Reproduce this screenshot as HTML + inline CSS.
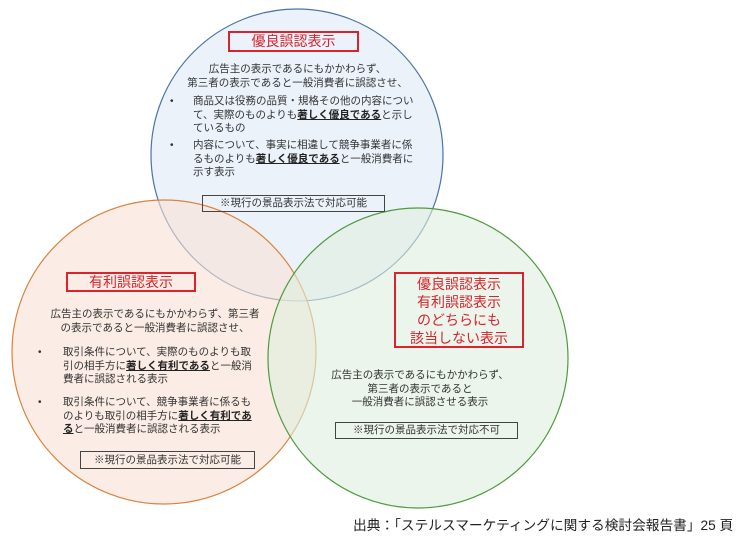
<!DOCTYPE html>
<html><head><meta charset="utf-8"><style>
body{margin:0;width:750px;height:540px;background:#fff;position:relative;overflow:hidden;font-family:"Liberation Sans","Noto Sans CJK JP",sans-serif;color:#333}
.a{position:absolute;font-size:10.5px;line-height:13.5px;white-space:nowrap}
.c{text-align:center}
.t{position:absolute;border:2px solid #d9232d;color:#d9232d;text-align:center;font-size:14px;box-sizing:border-box}
.n{position:absolute;border:1px solid #444;text-align:center;font-size:10.5px;line-height:15px;box-sizing:border-box;color:#333}
b{text-decoration:underline;color:#222}
.bl{position:absolute;font-size:10px}
</style></head><body>
<svg width="750" height="540" style="position:absolute;left:0;top:0">
<circle cx="297" cy="155" r="146" fill="#dde9f5" fill-opacity="0.6" stroke="#4a74a8" stroke-width="1.2"/>
<circle cx="164" cy="352" r="152" fill="#f9e1d3" fill-opacity="0.6" stroke="#d9833f" stroke-width="1.2"/>
<circle cx="418" cy="358" r="150" fill="#dfeedd" fill-opacity="0.6" stroke="#4f9a3e" stroke-width="1.2"/>
</svg>
<div class="t" style="left:228px;top:31px;width:131px;height:21px;line-height:17px">優良誤認表示</div>
<div class="a c" style="left:150px;width:295px;top:63px">広告主の表示であるにもかかわらず、<br>第三者の表示であると一般消費者に誤認させ、</div>
<div class="bl" style="left:170px;top:96px">•</div>
<div class="a" style="left:193px;top:95px">商品又は役務の品質・規格その他の内容につい<br>て、実際のものよりも<b>著しく優良である</b>と示し<br>ているもの</div>
<div class="bl" style="left:170px;top:140px">•</div>
<div class="a" style="left:193px;top:139px">内容について、事実に相違して競争事業者に係<br>るものよりも<b>著しく優良である</b>と一般消費者に<br>示す表示</div>
<div class="n" style="left:202px;top:195px;width:183px;height:17px">※現行の景品表示法で対応可能</div>

<div class="t" style="left:66px;top:272px;width:130px;height:20px;line-height:16px">有利誤認表示</div>
<div class="a c" style="left:20px;width:270px;top:308px">広告主の表示であるにもかかわらず、第三者<br>の表示であると一般消費者に誤認させ、</div>
<div class="bl" style="left:38px;top:347px">•</div>
<div class="a" style="left:63px;top:346px">取引条件について、実際のものよりも取<br>引の相手方に<b>著しく有利である</b>と一般消<br>費者に誤認される表示</div>
<div class="bl" style="left:38px;top:397px">•</div>
<div class="a" style="left:63px;top:396px">取引条件について、競争事業者に係るも<br>のよりも取引の相手方に<b>著しく有利であ<br>る</b>と一般消費者に誤認される表示</div>
<div class="n" style="left:80px;top:451px;width:175px;height:18px;line-height:16px">※現行の景品表示法で対応可能</div>

<div class="t" style="left:394px;top:272px;width:130px;height:76px;line-height:18px;padding-top:1px">優良誤認表示<br>有利誤認表示<br>のどちらにも<br>該当しない表示</div>
<div class="a c" style="left:320px;width:200px;top:369px">広告主の表示であるにもかかわらず、<br>第三者の表示であると<br>一般消費者に誤認させる表示</div>
<div class="n" style="left:335px;top:422px;width:183px;height:17px">※現行の景品表示法で対応不可</div>

<div style="position:absolute;left:353px;top:514px;font-size:13.7px;white-space:nowrap;color:#222">出典：「ステルスマーケティングに関する検討会報告書」25 頁</div>
</body></html>
